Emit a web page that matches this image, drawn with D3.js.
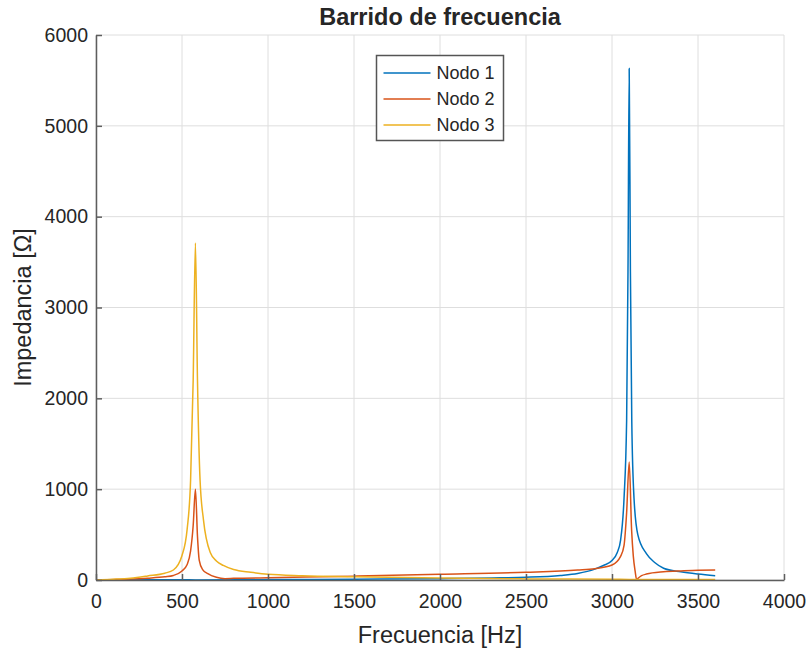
<!DOCTYPE html>
<html>
<head>
<meta charset="utf-8">
<script src="https://cdn.jsdelivr.net/npm/d3@7"></script>
<style>
  body { margin: 0; background: #fff; }
  svg text { font-family: "Liberation Sans", Arial, Helvetica, sans-serif; fill: #262626; }
  .grid line { stroke: #dedede; stroke-width: 1; }
  .axis path, .axis line { stroke: #5e5e5e; stroke-width: 1.5; }
</style>
</head>
<body>
<svg id="vis_svg" width="812" height="655"></svg>
<script>
// values
let seriesNames = ['Nodo 1', 'Nodo 2', 'Nodo 3'];
let seriesColors = ['#0072BD', '#D95319', '#EDB120'];

let freqNodo1 = [0, 500, 580, 1000, 1500, 2000, 2300, 2500, 2700, 2800, 2900, 2950, 3000, 3030, 3050, 3070, 3085, 3093, 3100, 3107, 3115, 3128, 3150, 3200, 3250, 3300, 3400, 3500, 3600];
let nodo1 = [0, 2, 1, 5, 8, 15, 22, 30, 50, 72, 120, 160, 215, 300, 440, 900, 1750, 3400, 5630, 3400, 1750, 900, 500, 290, 190, 130, 90, 65, 47];

let freqNodo2 = [0, 200, 300, 400, 450, 500, 530, 550, 565, 578, 590, 600, 620, 650, 700, 750, 800, 1000, 1500, 2000, 2500, 2800, 2900, 3000, 3050, 3070, 3085, 3100, 3114, 3124, 3135, 3143, 3155, 3172, 3200, 3300, 3400, 3500, 3600];
let nodo2 = [0, 10, 20, 35, 50, 100, 170, 320, 600, 1000, 480, 220, 115, 70, 30, 15, 18, 25, 42, 62, 85, 110, 125, 165, 260, 380, 740, 1300, 550, 260, 90, 5, 25, 48, 65, 90, 100, 106, 110];

let freqNodo3 = [0, 100, 200, 300, 400, 450, 500, 530, 550, 565, 578, 590, 605, 625, 665, 700, 740, 800, 900, 1000, 1200, 1500, 2000, 2500, 3000, 3100, 3600];
let nodo3 = [0, 8, 20, 45, 75, 110, 270, 560, 1100, 2200, 3710, 2200, 1100, 660, 300, 210, 160, 115, 85, 63, 48, 37, 22, 12, 8, 6, 5];

let xTicks = [0, 500, 1000, 1500, 2000, 2500, 3000, 3500, 4000];
let yTicks = [0, 1000, 2000, 3000, 4000, 5000, 6000];

let svg = d3.select('svg#vis_svg');
let margin = {left: 96, top: 35, right: 28, bottom: 75};
let width = 812 - margin.left - margin.right;
let height = 655 - margin.top - margin.bottom;

let x = d3.scaleLinear().domain([0, 4000]).range([0, width]);
let y = d3.scaleLinear().domain([0, 6000]).range([height, 0]);

let plot = svg.append('g').attr('transform', translate(margin.left, margin.top));

// grid
plot.append('g').attr('class', 'grid')
    .selectAll('line.v').data(xTicks).enter().append('line')
    .attr('x1', d => x(d)).attr('x2', d => x(d))
    .attr('y1', 0).attr('y2', height);
plot.append('g').attr('class', 'grid')
    .selectAll('line.h').data(yTicks).enter().append('line')
    .attr('x1', 0).attr('x2', width)
    .attr('y1', d => y(d)).attr('y2', d => y(d));

// lines
let series = [
    {name: seriesNames[0], color: seriesColors[0], pts: freqNodo1.map((f, i) => [f, nodo1[i]])},
    {name: seriesNames[1], color: seriesColors[1], pts: freqNodo2.map((f, i) => [f, nodo2[i]])},
    {name: seriesNames[2], color: seriesColors[2], pts: freqNodo3.map((f, i) => [f, nodo3[i]])}
];

let line = d3.line()
    .curve(d3.curveMonotoneX)
    .x(d => x(d[0]))
    .y(d => y(d[1]));

plot.append('g').selectAll('path')
    .data(series).enter().append('path')
    .attr('d', d => line(d.pts))
    .attr('fill', 'none')
    .attr('stroke', d => d.color)
    .attr('stroke-width', 1.5);

// axes (MATLAB style, ticks inward)
let fmt = d3.format('d');
plot.append('g').attr('class', 'axis')
    .attr('transform', translate(0, height))
    .call(d3.axisBottom(x).tickValues(xTicks).tickFormat(fmt).tickSizeInner(-6).tickSizeOuter(0).tickPadding(14));
plot.append('g').attr('class', 'axis')
    .call(d3.axisLeft(y).tickValues(yTicks).tickFormat(fmt).tickSizeInner(-6).tickSizeOuter(0).tickPadding(8));
svg.selectAll('.axis text').style('font-size', '19.5px').attr('fill', '#262626');

// titles
svg.append('text')
    .attr('x', margin.left + width / 2).attr('y', 25)
    .attr('text-anchor', 'middle')
    .style('font-size', '23.5px').style('font-weight', 'bold')
    .text('Barrido de frecuencia');
svg.append('text')
    .attr('x', margin.left + width / 2).attr('y', 643)
    .attr('text-anchor', 'middle')
    .style('font-size', '23.5px')
    .text('Frecuencia [Hz]');
svg.append('text')
    .attr('transform', translate(31, margin.top + height / 2) + ' rotate(-90)')
    .attr('text-anchor', 'middle')
    .style('font-size', '23.5px')
    .text('Impedancia [Ω]');

// legend
let legend = svg.append('g').attr('transform', translate(376.5, 55.5));
legend.append('rect')
    .attr('width', 127).attr('height', 85)
    .attr('fill', '#fff').attr('stroke', '#555').attr('stroke-width', 1.5);
let rows = legend.selectAll('g.row').data(series).enter().append('g')
    .attr('transform', (d, i) => translate(0, 17.5 + i * 26));
rows.append('line')
    .attr('x1', 7).attr('x2', 54)
    .attr('stroke', d => d.color).attr('stroke-width', 1.5);
rows.append('text')
    .attr('x', 60).attr('dy', '0.35em')
    .style('font-size', '18px')
    .text(d => d.name);

function translate(a, b) {
    return 'translate(' + String(a) + ',' + String(b) + ')';
}
</script>
</body>
</html>
